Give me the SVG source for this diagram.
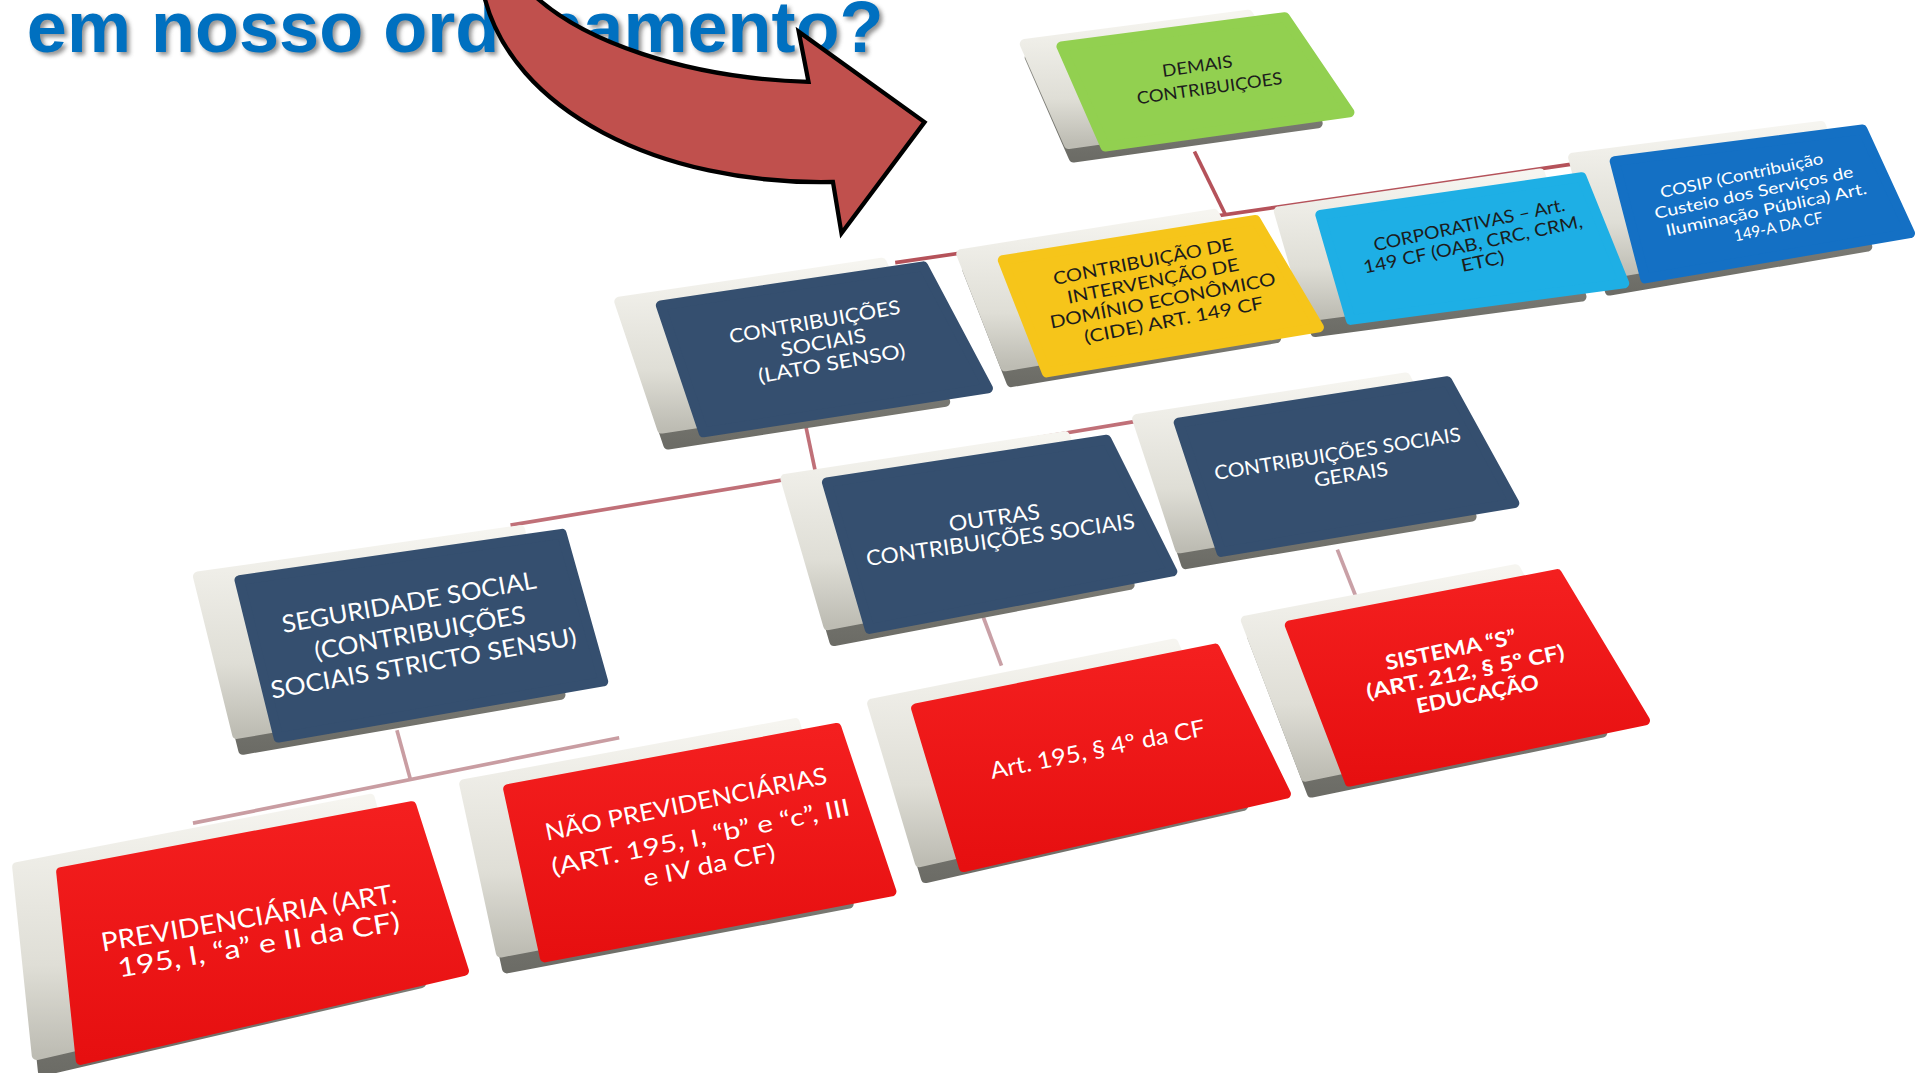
<svg xmlns="http://www.w3.org/2000/svg" width="1915" height="1073" viewBox="0 0 1915 1073">
<defs>
<linearGradient id="gc" x1="0" y1="0" x2="0" y2="1">
<stop offset="0" stop-color="#F6F5F0"/><stop offset="0.65" stop-color="#DFDED6"/><stop offset="1" stop-color="#BDBCB3"/>
</linearGradient>
<linearGradient id="gd" x1="0" y1="0" x2="0" y2="1">
<stop offset="0" stop-color="#9A9A93"/><stop offset="1" stop-color="#6C6C66"/>
</linearGradient>
<linearGradient id="gr" x1="0" y1="0" x2="0" y2="1">
<stop offset="0" stop-color="#F41F1F"/><stop offset="1" stop-color="#E60F10"/>
</linearGradient>
<filter id="blur" x="-5%" y="-20%" width="110%" height="140%"><feGaussianBlur stdDeviation="1.6"/></filter>
<style>
.cream{fill:url(#gc);stroke:url(#gc);stroke-width:8;stroke-linejoin:round}
.dark{fill:url(#gd);stroke:url(#gd);stroke-width:8;stroke-linejoin:round}
.face{stroke-width:8;stroke-linejoin:round}
.green{fill:#92D050;stroke:#92D050}
.navy{fill:#354F6F;stroke:#354F6F}
.yellow{fill:#F6C51A;stroke:#F6C51A}
.sky{fill:#1EAFE5;stroke:#1EAFE5}
.blue{fill:#1470C4;stroke:#1470C4}
.red{fill:url(#gr);stroke:url(#gr)}
.t{font-family:Lato,"Noto Sans",sans-serif;text-anchor:middle}
.w{fill:#FFFFFF}
.k{fill:#1C1C1C}
.ln{fill:none;stroke-width:3}
.title{font-family:"Liberation Sans",Arial,sans-serif;font-weight:bold;font-size:59px}
</style>
</defs>
<rect width="1915" height="1073" fill="#FFFFFF"/>
<g transform="scale(1.22131)">
<g id="title">
<text class="title" x="24.5" y="45" fill="#6E6E6E" opacity="0.75" filter="url(#blur)">em nosso ordenamento?</text>
<text class="title" x="22" y="42.6" fill="#0070C0">em nosso ordenamento?</text>
</g>
<g id="arrow">
<path d="M396,-5 C418,90 540,152 682,149 L689,191 L757,100 L654,26 L662,67 C560,64 476,33 436,-5 Z" fill="#C0504D" stroke="#000000" stroke-width="3.5" stroke-linejoin="miter"/>
</g>
<g id="connectors">
<line class="ln" stroke="#B5525A" x1="978" y1="124" x2="1003" y2="175"/>
<line class="ln" stroke="#B5525A" x1="733" y1="215" x2="1290" y2="134"/>
<line class="ln" stroke="#C07078" x1="660" y1="350" x2="668" y2="388"/>
<line class="ln" stroke="#C07078" x1="418" y1="430" x2="930" y2="345"/>
<line class="ln" stroke="#C99DA2" x1="325" y1="598" x2="336" y2="638"/>
<line class="ln" stroke="#C99DA2" x1="158" y1="674" x2="507" y2="604"/>
<line class="ln" stroke="#C9A0A6" x1="805" y1="505" x2="820" y2="545"/>
<line class="ln" stroke="#C9A0A6" x1="1095" y1="450" x2="1110" y2="488"/>
</g>
<g id="node-demais">
<polygon class="dark" points="843,47 1026,23 1079,101 879,129"/>
<polygon class="cream" points="839,36 1022,12 1075,90 875,118"/>
<polygon class="face green" points="869,38 1052,14 1105,92 905,120"/>
<text class="t k" font-size="14" x="981" y="59" textLength="58" lengthAdjust="spacingAndGlyphs" transform="rotate(-8 981 59)">DEMAIS</text>
<text class="t k" font-size="14" x="991" y="77" textLength="120" lengthAdjust="spacingAndGlyphs" transform="rotate(-8 991 77)">CONTRIBUIÇOES</text>
</g>
<g id="node-cosip">
<polygon class="dark" points="1293,142 1496,116 1529,202 1318,238"/>
<polygon class="cream" points="1288,129 1491,103 1524,189 1313,225"/>
<polygon class="face blue" points="1322,132 1525,106 1564,191 1347,228"/>
<text class="t w" font-size="13" x="1427" y="148" textLength="136" lengthAdjust="spacingAndGlyphs" transform="rotate(-12 1427 148)">COSIP (Contribuição</text>
<text class="t w" font-size="13" x="1437" y="162" textLength="166" lengthAdjust="spacingAndGlyphs" transform="rotate(-12 1437 162)">Custeio dos Serviços de</text>
<text class="t w" font-size="13" x="1447" y="176" textLength="168" lengthAdjust="spacingAndGlyphs" transform="rotate(-12 1447 176)">Iluminação Pública) Art.</text>
<text class="t w" font-size="13" x="1457" y="190" textLength="74" lengthAdjust="spacingAndGlyphs" transform="rotate(-12 1457 190)">149-A DA CF</text>
</g>
<g id="node-corporativas">
<polygon class="dark" points="1052,186 1266,155 1295,243 1077,272"/>
<polygon class="cream" points="1047,173 1261,142 1290,230 1072,259"/>
<polygon class="face sky" points="1081,176 1295,145 1330,232 1106,262"/>
<text class="t k" font-size="14.5" x="1204" y="189" textLength="160" lengthAdjust="spacingAndGlyphs" transform="rotate(-12 1204 189)">CORPORATIVAS – Art.</text>
<text class="t k" font-size="14.5" x="1207" y="205" textLength="183" lengthAdjust="spacingAndGlyphs" transform="rotate(-12 1207 205)">149 CF (OAB, CRC, CRM,</text>
<text class="t k" font-size="14.5" x="1215" y="219" textLength="36" lengthAdjust="spacingAndGlyphs" transform="rotate(-12 1215 219)">ETC)</text>
</g>
<g id="node-cide">
<polygon class="dark" points="792,221 999,188 1045,277 828,313"/>
<polygon class="cream" points="787,208 994,175 1040,264 823,300"/>
<polygon class="face yellow" points="821,213 1028,180 1080,268 857,305"/>
<text class="t k" font-size="14.5" x="937" y="219" textLength="150" lengthAdjust="spacingAndGlyphs" transform="rotate(-11 937 219)">CONTRIBUIÇÃO DE</text>
<text class="t k" font-size="14.5" x="945" y="235" textLength="143" lengthAdjust="spacingAndGlyphs" transform="rotate(-11 945 235)">INTERVENÇÃO DE</text>
<text class="t k" font-size="14.5" x="953" y="251" textLength="188" lengthAdjust="spacingAndGlyphs" transform="rotate(-11 953 251)">DOMÍNIO ECONÔMICO</text>
<text class="t k" font-size="14.5" x="962" y="267" textLength="149" lengthAdjust="spacingAndGlyphs" transform="rotate(-11 962 267)">(CIDE) ART. 149 CF</text>
</g>
<g id="node-lato">
<polygon class="dark" points="512,260 727,228 774,329 547,364"/>
<polygon class="cream" points="507,247 722,215 769,316 542,351"/>
<polygon class="face navy" points="541,250 756,218 809,318 576,354"/>
<text class="t w" font-size="16" x="668" y="269" textLength="142" lengthAdjust="spacingAndGlyphs" transform="rotate(-10 668 269)">CONTRIBUIÇÕES</text>
<text class="t w" font-size="16" x="675" y="286" textLength="71" lengthAdjust="spacingAndGlyphs" transform="rotate(-10 675 286)">SOCIAIS</text>
<text class="t w" font-size="16" x="682" y="303" textLength="122" lengthAdjust="spacingAndGlyphs" transform="rotate(-10 682 303)">(LATO SENSO)</text>
</g>
<g id="node-gerais">
<polygon class="dark" points="936,356 1156,322 1205,423 971,462"/>
<polygon class="cream" points="931,343 1151,309 1200,410 966,449"/>
<polygon class="face navy" points="965,346 1185,312 1240,412 1000,452"/>
<text class="t w" font-size="16" x="1096" y="377" textLength="204" lengthAdjust="spacingAndGlyphs" transform="rotate(-9 1096 377)">CONTRIBUIÇÕES SOCIAIS</text>
<text class="t w" font-size="16" x="1107" y="394" textLength="61" lengthAdjust="spacingAndGlyphs" transform="rotate(-9 1107 394)">GERAIS</text>
</g>
<g id="node-outras">
<polygon class="dark" points="648,405 877,370 925,479 683,525"/>
<polygon class="cream" points="643,392 872,357 920,466 678,512"/>
<polygon class="face navy" points="677,395 906,360 960,468 712,515"/>
<text class="t w" font-size="17.5" x="815" y="430" textLength="75" lengthAdjust="spacingAndGlyphs" transform="rotate(-8 815 430)">OUTRAS</text>
<text class="t w" font-size="17.5" x="820" y="448" textLength="222" lengthAdjust="spacingAndGlyphs" transform="rotate(-8 820 448)">CONTRIBUIÇÕES SOCIAIS</text>
</g>
<g id="node-seguridade">
<polygon class="dark" points="167,485 431,447 459,569 199,614"/>
<polygon class="cream" points="162,472 426,434 454,556 194,601"/>
<polygon class="face navy" points="196,475 460,437 494,558 228,604"/>
<text class="t w" font-size="20" x="336" y="500" textLength="211" lengthAdjust="spacingAndGlyphs" transform="rotate(-10 336 500)">SEGURIDADE SOCIAL</text>
<text class="t w" font-size="20" x="345" y="525" textLength="175" lengthAdjust="spacingAndGlyphs" transform="rotate(-10 345 525)">(CONTRIBUIÇÕES</text>
<text class="t w" font-size="20" x="348" y="550" textLength="254" lengthAdjust="spacingAndGlyphs" transform="rotate(-10 348 550)">SOCIAIS STRICTO SENSU)</text>
</g>
<g id="node-sistema-s">
<polygon class="dark" points="1025,521 1246,479 1312,600 1074,649"/>
<polygon class="cream" points="1020,508 1241,466 1307,587 1069,636"/>
<polygon class="face red" points="1056,512 1275,470 1347,590 1105,640"/>
<text class="t w" font-size="17" font-weight="bold" x="1189" y="538" textLength="109" lengthAdjust="spacingAndGlyphs" transform="rotate(-11.5 1189 538)">SISTEMA “S”</text>
<text class="t w" font-size="17" font-weight="bold" x="1201" y="556" textLength="165" lengthAdjust="spacingAndGlyphs" transform="rotate(-11.5 1201 556)">(ART. 212, § 5º CF)</text>
<text class="t w" font-size="17" font-weight="bold" x="1211" y="574" textLength="102" lengthAdjust="spacingAndGlyphs" transform="rotate(-11.5 1211 574)">EDUCAÇÃO</text>
</g>
<g id="node-art195-4">
<polygon class="dark" points="719,589 966,540 1018,660 758,719"/>
<polygon class="cream" points="714,576 961,527 1013,647 753,706"/>
<polygon class="face red" points="750,580 995,531 1053,650 789,710"/>
<text class="t w" font-size="19" x="900" y="620" textLength="179" lengthAdjust="spacingAndGlyphs" transform="rotate(-11.5 900 620)">Art. 195, § 4º da CF</text>
</g>
<g id="node-nao-prev">
<polygon class="dark" points="385,655 656,605 695,740 415,793"/>
<polygon class="cream" points="380,642 651,592 690,727 410,780"/>
<polygon class="face red" points="416,646 685,596 730,730 446,784"/>
<text class="t w" font-size="19.5" x="563" y="665" textLength="235" lengthAdjust="spacingAndGlyphs" transform="rotate(-11.5 563 665)">NÃO PREVIDENCIÁRIAS</text>
<text class="t w" font-size="19.5" x="575" y="692" textLength="249" lengthAdjust="spacingAndGlyphs" transform="rotate(-11.5 575 692)">(ART. 195, I, “b” e “c”, III</text>
<text class="t w" font-size="19.5" x="582" y="715" textLength="110" lengthAdjust="spacingAndGlyphs" transform="rotate(-11.5 582 715)">e IV da CF)</text>
</g>
<g id="node-prev">
<polygon class="dark" points="19,723 308,667 345,805 35,877"/>
<polygon class="cream" points="14,710 303,654 340,792 30,864"/>
<polygon class="face red" points="50,714 337,660 380,795 66,868"/>
<text class="t w" font-size="21.5" x="205" y="759" textLength="245" lengthAdjust="spacingAndGlyphs" transform="rotate(-9.5 205 759)">PREVIDENCIÁRIA (ART.</text>
<text class="t w" font-size="21.5" x="213" y="781" textLength="234" lengthAdjust="spacingAndGlyphs" transform="rotate(-9.5 213 781)">195, I, “a” e  II da CF)</text>
</g>
</g>
</svg>
